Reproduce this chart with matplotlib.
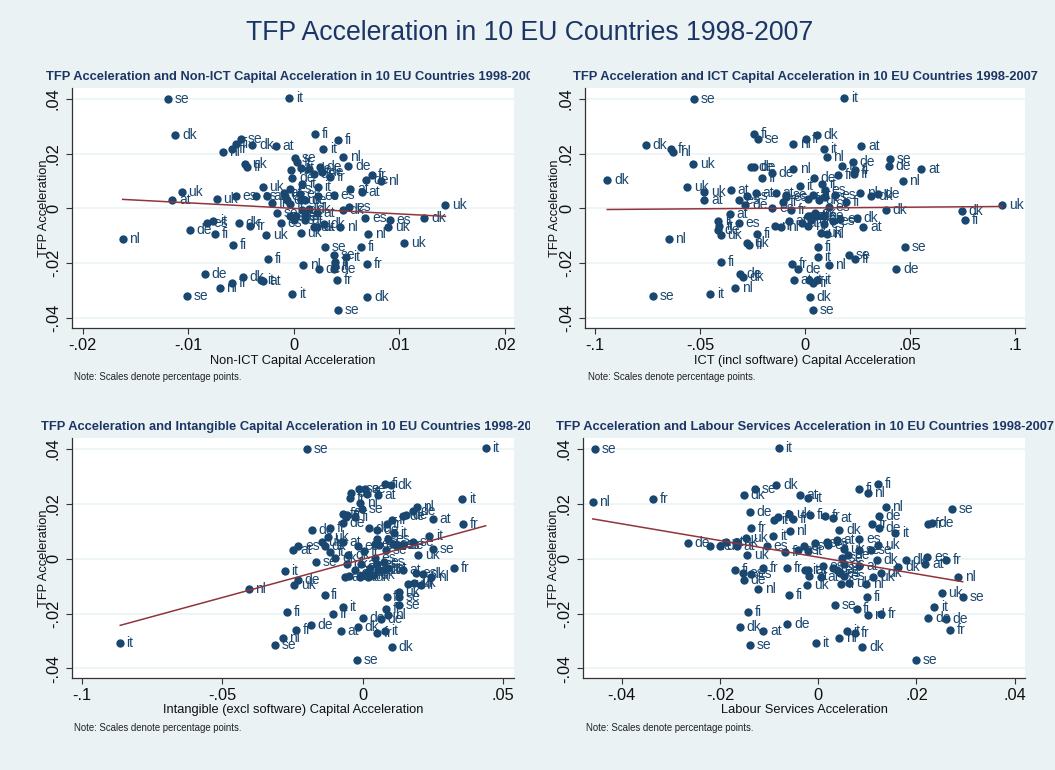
import matplotlib
matplotlib.use("Agg")
import matplotlib.pyplot as plt
from matplotlib.transforms import Bbox

plt.rcParams['font.family'] = ['Liberation Sans', 'DejaVu Sans']

W, H = 1055, 770
NAVY = '#1a476f'
BG = '#eaf2f3'
MAROON = '#90353b'
TITLE_C = '#1c3564'

main_title = 'TFP Acceleration in 10 EU Countries 1998-2007'
note = 'Note: Scales denote percentage points.'
ylabel = 'TFP Acceleration'

# Panel 1: Non-ICT
p1_title = 'TFP Acceleration and Non-ICT Capital Acceleration in 10 EU Countries 1998-2007'
p1_xlabel = 'Non-ICT Capital Acceleration'
p1_xticks = [-.02, -.01, 0, .01, .02]
p1_xticklabels = ['-.02', '-.01', '0', '.01', '.02']
p1_pts = [
 ('se',-.0119,.0400),('it',-.0004,.0403),('dk',-.0112,.0268),('fi',.0020,.0272),('fi',.0042,.0251),
 ('se',-.0050,.0252),('fi',-.0055,.0237),('dk',-.0039,.0233),('at',-.0017,.0229),('fr',-.0058,.0218),
 ('it',.0028,.0217),('nl',-.0067,.0205),('nl',.0047,.0188),('se',.0001,.0183),('de',.0052,.0155),
 ('uk',-.0046,.0163),('fi',-.0044,.0152),('fr',.0003,.0168),('it',.0007,.0147),('nl',-.0002,.0140),
 ('de',.0015,.0144),('de',.0025,.0152),('de',.0019,.0127),('de',.0027,.0132),('fr',.0035,.0113),
 ('de',-.0001,.0111),('de',.0069,.0104),('fr',.0074,.0123),('nl',.0083,.0101),('it',.0008,.0090),
 ('it',.0023,.0080),('uk',-.0029,.0078),('es',-.0003,.0072),('at',.0054,.0071),('at',.0065,.0060),
 ('uk',-.0106,.0060),('at',-.0115,.0030),('uk',-.0073,.0034),('es',-.0055,.0045),('es',-.0036,.0044),
 ('at',-.0025,.0046),('at',-.0009,.0056),('es',-.0008,.0044),('es',-.0006,.0032),('es',.0006,.0054),
 ('de',.0011,.0029),('es',.0023,.0046),('es',.0038,.0049),('fi',-.0020,.0021),('fi',-.0003,.0016),
 ('uk',.0007,.0032),('uk',.0144,.0012),('es',.0053,.0004),('dk',.0047,-.0007),('dk',.0124,-.0035),
 ('se',-.0016,-.0015),('at',.0022,-.0018),('dk',.0008,-.0005),('dk',.0015,-.0002),('se',-.0003,-.0029),
 ('se',.0002,-.0029),('es',.0000,-.0044),('at',.0011,-.0029),('at',.0011,-.0041),('es',.0068,-.0035),
 ('es',.0091,-.0044),('uk',.0090,-.0067),('it',-.0076,-.0045),('es',-.0082,-.0055),('dk',-.0052,-.0055),
 ('fr',-.0041,-.0063),('es',-.0012,-.0055),('uk',.0019,-.0067),('at',.0022,-.0067),('dk',.0029,-.0056),
 ('nl',.0044,-.0068),('de',-.0098,-.0080),('fi',-.0074,-.0095),('uk',-.0026,-.0097),('uk',.0007,-.0089),
 ('nl',.0071,-.0093),('nl',-.0162,-.0113),('uk',.0105,-.0125),('fi',-.0057,-.0134),('se',.0030,-.0140),
 ('fi',.0064,-.0140),('se',.0038,-.0170),('it',.0050,-.0177),('fi',-.0024,-.0185),('fi',.0039,-.0197),
 ('fr',.0070,-.0203),('nl',.0009,-.0208),('it',.0039,-.0212),('de',.0024,-.0223),('de',.0038,-.0222),
 ('de',-.0084,-.0240),('dk',-.0048,-.0250),('it',-.0031,-.0263),('at',-.0029,-.0264),('fr',-.0058,-.0273),
 ('fr',.0041,-.0262),('nl',-.0070,-.0290),('it',-.0001,-.0311),('se',-.0101,-.0319),('dk',.0070,-.0324),
 ('se',.0042,-.0373),
]
p1_fit_x = [-.0162, .0144]
p1_fit_y = [.0033, -.0029]

# Panel 2: ICT
p2_title = 'TFP Acceleration and ICT Capital Acceleration in 10 EU Countries 1998-2007'
p2_xlabel = 'ICT (incl software) Capital Acceleration'
p2_xticks = [-.1, -.05, 0, .05, .1]
p2_xticklabels = ['-.1', '-.05', '0', '.05', '.1']
p2_pts = [
 ('se',-.0529,.0400),('it',.0186,.0403),('fi',-.0245,.0272),('se',-.0224,.0253),('dk',.0057,.0268),
 ('fi',.0002,.0252),('nl',-.0057,.0237),('dk',-.0759,.0233),('fr',-.0639,.0218),('nl',-.0627,.0205),
 ('it',.0089,.0217),('at',.0268,.0229),('nl',.0103,.0188),('se',.0405,.0181),('de',.0226,.0169),
 ('de',.0399,.0155),('uk',-.0532,.0162),('de',-.0256,.0152),('de',-.0243,.0151),('fi',.0178,.0156),
 ('at',.0554,.0145),('fi',.0238,.0140),('de',-.0159,.0130),('nl',-.0056,.0144),('fr',.0156,.0122),
 ('fr',.0235,.0125),('fi',-.0203,.0112),('de',.0040,.0110),('nl',.0465,.0101),('dk',-.0942,.0104),
 ('it',.0081,.0090),('it',-.0025,.0082),('uk',-.0561,.0077),('uk',-.0480,.0060),('at',-.0354,.0069),
 ('at',-.0235,.0058),('at',-.0138,.0057),('es',.0094,.0068),('nl',.0261,.0057),('de',.0345,.0054),
 ('dk',.0315,.0044),('at',-.0480,.0030),('se',-.0092,.0049),('es',-.0278,.0046),('es',-.0315,.0029),
 ('de',-.0284,.0013),('at',.0038,.0049),('es',.0097,.0043),('es',.0141,.0049),('fi',-.0106,.0022),
 ('fr',.0016,.0034),('uk',.0065,.0032),('fi',.0194,.0023),('es',-.0089,.0040),('es',-.0156,.0000),
 ('fr',-.0065,-.0004),('es',.0113,.0006),('uk',.0939,.0012),('dk',.0386,-.0005),('dk',.0748,-.0009),
 ('fi',.0761,-.0044),('at',-.0357,-.0021),('it',-.0413,-.0045),('es',-.0316,-.0055),('dk',.0246,-.0035),
 ('at',.0278,-.0067),('es',.0168,-.0038),('es',.0135,-.0046),('dk',.0046,-.0015),('at',.0025,-.0027),
 ('at',.0016,-.0029),('se',.0054,-.0029),('se',.0083,-.0027),('uk',.0030,-.0044),('es',.0089,-.0056),
 ('nl',.0014,-.0066),('at',-.0017,-.0055),('at',-.0078,-.0045),('nl',-.0113,-.0068),('nl',-.0145,-.0065),
 ('it',-.0410,-.0066),('de',-.0415,-.0080),('uk',-.0402,-.0096),('fi',-.0227,-.0095),('uk',.0075,-.0089),
 ('nl',.0102,-.0094),('nl',-.0650,-.0113),('uk',-.0276,-.0125),('fi',-.0268,-.0134),('se',.0477,-.0140),
 ('fi',.0062,-.0140),('it',.0060,-.0177),('se',.0210,-.0170),('fr',.0237,-.0184),('fi',-.0402,-.0197),
 ('fr',-.0064,-.0203),('nl',.0113,-.0208),('de',-.0032,-.0220),('de',.0435,-.0223),('de',-.0310,-.0240),
 ('dk',-.0295,-.0250),('at',-.0052,-.0263),('it',.0017,-.0263),('it',.0057,-.0263),('fr',.0038,-.0273),
 ('nl',-.0334,-.0291),('it',-.0451,-.0311),('se',-.0724,-.0319),('dk',.0021,-.0324),('se',.0038,-.0373),
]
p2_fit_x = [-.0942, .0939]
p2_fit_y = [-.0004, .0007]

# Panel 3: Intangible
p3_title = 'TFP Acceleration and Intangible Capital Acceleration in 10 EU Countries 1998-2007'
p3_xlabel = 'Intangible (excl software) Capital Acceleration'
p3_xticks = [-.1, -.05, 0, .05]
p3_xticklabels = ['-.1', '-.05', '0', '.05']
p3_pts = [
 ('se',-.0199,.0401),('it',.0438,.0405),('it',.0355,.0219),('fr',.0356,.0125),('fr',.0324,-.0034),
 ('at',.0250,.0146),('it',.0236,.0083),('se',.0250,.0034),('uk',.0198,.0015),('fi',.0081,.0272),
 ('dk',.0101,.0270),('se',-.0015,.0254),('se',.0009,.0254),('at',.0055,.0231),('fi',.0014,.0235),
 ('dk',-.0043,.0238),('fr',-.0046,.0220),('nl',-.0009,.0204),('se',-.0001,.0182),('nl',.0192,.0188),
 ('de',.0180,.0173),('de',.0142,.0154),('de',.0153,.0158),('fi',-.0071,.0164),('fi',-.0057,.0158),
 ('fi',-.0027,.0152),('fi',-.0060,.0152),('de',-.0071,.0131),('fr',.0106,.0141),('fr',.0085,.0128),
 ('fr',-.0117,.0113),('de',-.0181,.0106),('de',.0021,.0112),('de',.0050,.0103),('it',.0110,.0094),
 ('uk',-.0125,.0079),('uk',-.0146,.0062),('at',-.0070,.0061),('dk',-.0136,.0046),('es',-.0229,.0046),
 ('at',-.0247,.0032),('es',-.0017,.0047),('es',.0091,.0071),('es',.0050,.0071),('es',.0042,.0055),
 ('es',.0058,.0051),('es',.0107,.0055),('es',.0127,.0049),('se',.0142,.0051),('se',.0180,.0061),
 ('se',.0083,.0033),('fi',.0005,.0027),('it',-.0115,.0023),('dk',-.0051,.0015),('dk',-.0098,.0001),
 ('se',-.0166,-.0013),('dk',-.0057,-.0021),('at',-.0006,-.0021),('es',.0044,.0002),('es',.0050,-.0018),
 ('es',.0076,-.0012),('it',-.0278,-.0044),('at',-.0027,-.0041),('at',.0026,-.0034),('at',.0020,-.0049),
 ('dk',.0056,-.0043),('dk',.0074,-.0043),('at',.0091,-.0034),('at',.0144,-.0043),('es',.0189,-.0053),
 ('dk',.0216,-.0056),('nl',.0244,-.0066),('at',-.0063,-.0066),('at',-.0049,-.0064),('de',-.0230,-.0079),
 ('at',-.0010,-.0067),('uk',.0002,-.0061),('uk',.0020,-.0066),('dk',.0038,-.0061),('uk',-.0244,-.0097),
 ('nl',-.0407,-.0111),('uk',.0163,-.0094),('uk',.0184,-.0089),('fi',.0206,-.0095),('uk',.0129,-.0123),
 ('fi',-.0136,-.0133),('fi',.0085,-.0139),('se',.0130,-.0139),('se',.0128,-.0169),('it',-.0071,-.0175),
 ('fi',.0083,-.0182),('fi',-.0269,-.0196),('fr',-.0107,-.0202),('nl',.0091,-.0207),('de',.0000,-.0218),
 ('de',.0064,-.0221),('de',-.0184,-.0240),('dk',-.0017,-.0248),('at',-.0077,-.0263),('fr',-.0238,-.0261),
 ('it',.0079,-.0264),('fr',.0050,-.0271),('nl',-.0285,-.0288),('it',-.0866,-.0309),('se',-.0311,-.0316),
 ('dk',.0103,-.0321),('se',-.0019,-.0371),
]
p3_fit_x = [-.0864, .0438]
p3_fit_y = [-.0243, .0120]

# Panel 4: Labour
p4_title = 'TFP Acceleration and Labour Services Acceleration in 10 EU Countries 1998-2007'
p4_xlabel = 'Labour Services Acceleration'
p4_xticks = [-.04, -.02, 0, .02, .04]
p4_xticklabels = ['-.04', '-.02', '0', '.02', '.04']
p4_pts = [
 ('se',-.0454,.0401),('it',-.0080,.0405),('nl',-.0459,.0205),('fr',-.0337,.0219),('se',-.0128,.0254),
 ('dk',-.0152,.0233),('dk',-.0085,.0270),('at',-.0038,.0231),('it',-.0020,.0220),('fi',.0084,.0253),
 ('nl',.0101,.0238),('fi',.0122,.0272),('nl',.0137,.0188),('se',.0273,.0182),('de',.0123,.0156),
 ('de',-.0139,.0170),('fr',.0224,.0126),('de',.0232,.0131),('uk',-.0059,.0163),('fi',-.0016,.0158),
 ('fi',-.0082,.0153),('fr',.0014,.0154),('fi',-.0052,.0145),('at',.0031,.0147),('it',-.0090,.0141),
 ('fr',.0110,.0125),('de',.0124,.0112),('it',.0157,.0092),('fr',-.0137,.0113),('nl',-.0058,.0102),
 ('dk',.0043,.0105),('it',-.0092,.0083),('uk',-.0147,.0077),('at',.0038,.0069),('es',.0084,.0073),
 ('uk',.0122,.0050),('de',-.0265,.0056),('de',-.0221,.0047),('de',-.0200,.0045),('at',-.0188,.0060),
 ('uk',-.0166,.0060),('at',-.0166,.0045),('es',-.0104,.0047),('fi',-.0068,.0026),('it',-.0020,.0027),
 ('es',-.0041,.0032),('es',-.0029,.0046),('es',-.0006,.0057),('es',.0017,.0061),('es',.0020,.0051),
 ('uk',.0052,.0035),('se',.0082,.0030),('se',.0107,.0033),('de',.0060,.0015),('uk',-.0145,.0013),
 ('se',.0048,.0001),('es',.0052,-.0018),('dk',.0120,-.0005),('dk',.0179,-.0004),('es',.0222,.0005),
 ('at',.0218,-.0019),('fr',.0260,-.0004),('at',.0084,-.0026),('dk',.0163,-.0032),('dk',.0128,-.0053),
 ('uk',.0112,-.0066),('nl',.0285,-.0067),('es',.0010,-.0026),('es',.0031,-.0034),('es',.0039,-.0043),
 ('es',.0044,-.0052),('es',.0052,-.0064),('it',-.0027,-.0043),('at',-.0020,-.0043),('at',-.0018,-.0064),
 ('at',.0005,-.0066),('fr',-.0063,-.0034),('fr',-.0112,-.0034),('fi',-.0170,-.0041),('es',-.0154,-.0053),
 ('es',-.0137,-.0056),('de',-.0152,-.0078),('uk',.0063,-.0089),('uk',-.0022,-.0097),('fi',.0047,-.0094),
 ('nl',.0098,-.0092),('nl',-.0122,-.0111),('uk',.0251,-.0124),('se',.0294,-.0139),('fi',-.0060,-.0133),
 ('fi',.0100,-.0139),('se',.0035,-.0168),('fi',.0078,-.0182),('it',.0236,-.0175),('fi',-.0143,-.0196),
 ('fr',.0128,-.0202),('nl',.0101,-.0207),('de',.0224,-.0218),('de',.0260,-.0221),('dk',-.0160,-.0248),
 ('de',-.0063,-.0238),('at',-.0112,-.0263),('it',.0058,-.0263),('fr',.0074,-.0271),('fr',.0269,-.0260),
 ('nl',.0043,-.0288),('it',-.0005,-.0309),('se',-.0139,-.0316),('dk',.0090,-.0321),('se',.0199,-.0371),
]
p4_fit_x = [-.0459, .0294]
p4_fit_y = [.0145, -.0084]

yticks = [-.04, -.02, 0, .02, .04]
yticklabels = ['-.04', '-.02', '0', '.02', '.04']

panels = [
 dict(box=(72, 514, 88, 328), xlim=(-.0210, .0209), ylim=(-.0437, .0440), pts=p1_pts,
      fx=p1_fit_x, fy=p1_fit_y, title=p1_title, xlabel=p1_xlabel, xt=p1_xticks, xl=p1_xticklabels,
      tx=46, ty=77, clip=530, nx=74, ny=377, ylx=44, xly=361),
 dict(box=(585, 1025, 88, 328), xlim=(-.1048, .1047), ylim=(-.0437, .0440), pts=p2_pts,
      fx=p2_fit_x, fy=p2_fit_y, title=p2_title, xlabel=p2_xlabel, xt=p2_xticks, xl=p2_xticklabels,
      tx=573, ty=77, clip=1055, nx=588, ny=377, ylx=555, xly=361),
 dict(box=(72, 514, 438, 678), xlim=(-.1036, .0539), ylim=(-.0435, .0440), pts=p3_pts,
      fx=p3_fit_x, fy=p3_fit_y, title=p3_title, xlabel=p3_xlabel, xt=p3_xticks, xl=p3_xticklabels,
      tx=41, ty=427, clip=530, nx=74, ny=728, ylx=44, xly=710),
 dict(box=(583, 1025, 438, 678), xlim=(-.0479, .0421), ylim=(-.0435, .0440), pts=p4_pts,
      fx=p4_fit_x, fy=p4_fit_y, title=p4_title, xlabel=p4_xlabel, xt=p4_xticks, xl=p4_xticklabels,
      tx=556, ty=427, clip=1055, nx=586, ny=728, ylx=554, xly=710),
]

fig = plt.figure(figsize=(W/100, H/100), dpi=100, facecolor=BG)
fig.text(530/W, 1-33/H, main_title, ha='center', va='center', fontsize=19.2, color=TITLE_C)

for p in panels:
    l, r, t, b = p['box']
    ax = fig.add_axes([l/W, 1-b/H, (r-l)/W, (b-t)/H], facecolor='white')
    ax.set_xlim(*p['xlim']); ax.set_ylim(*p['ylim'])
    for s in ('top', 'right'):
        ax.spines[s].set_visible(False)
    for s in ('left', 'bottom'):
        ax.spines[s].set_color('#333333'); ax.spines[s].set_linewidth(0.9)
    ax.set_yticks(yticks); ax.set_yticklabels(yticklabels, rotation=90, va='center', fontsize=11.8, color='#111111')
    ax.set_xticks(p['xt']); ax.set_xticklabels(p['xl'], fontsize=11.8, color='#111111')
    ax.tick_params(axis='both', length=4, width=0.8, color='#333333')
    ax.tick_params(axis='x', pad=3)
    ax.tick_params(axis='y', pad=4)
    ax.grid(axis='y', color=BG, lw=1.1)
    ax.set_axisbelow(True)
    xs = [q[1] for q in p['pts']]
    ys = [q[2] for q in p['pts']]
    ax.plot(xs, ys, 'o', ms=6, color=NAVY, mew=0, zorder=3)
    for lab, x, y in p['pts']:
        ax.annotate(lab, (x, y), xytext=(4.8, 0), textcoords='offset points', va='center', ha='left',
                    fontsize=10, color=NAVY, zorder=4, annotation_clip=False)
    ax.plot(p['fx'], p['fy'], color=MAROON, lw=1.1, zorder=5)
    fig.text(p['ylx']/W, 1-(t+b)/2/H, ylabel, rotation=90, ha='center', va='center', fontsize=9.3, color='#111111')
    fig.text((l+r)/2/W, 1-p['xly']/H, p['xlabel'], ha='center', va='center', fontsize=9.3, color='#111111')
    fig.text(p['nx']/W, 1-p['ny']/H, note, ha='left', va='center', fontsize=6.9, color='#222222')
    ttl = fig.text(p['tx']/W, 1-p['ty']/H, p['title'], ha='left', va='center', fontsize=9.3,
                   fontweight='bold', color=TITLE_C)
    ttl.set_clip_box(Bbox([[0, 0], [p['clip'], H]]))
    ttl.set_clip_on(True)

fig.savefig('out.png', dpi=100, facecolor=BG)
